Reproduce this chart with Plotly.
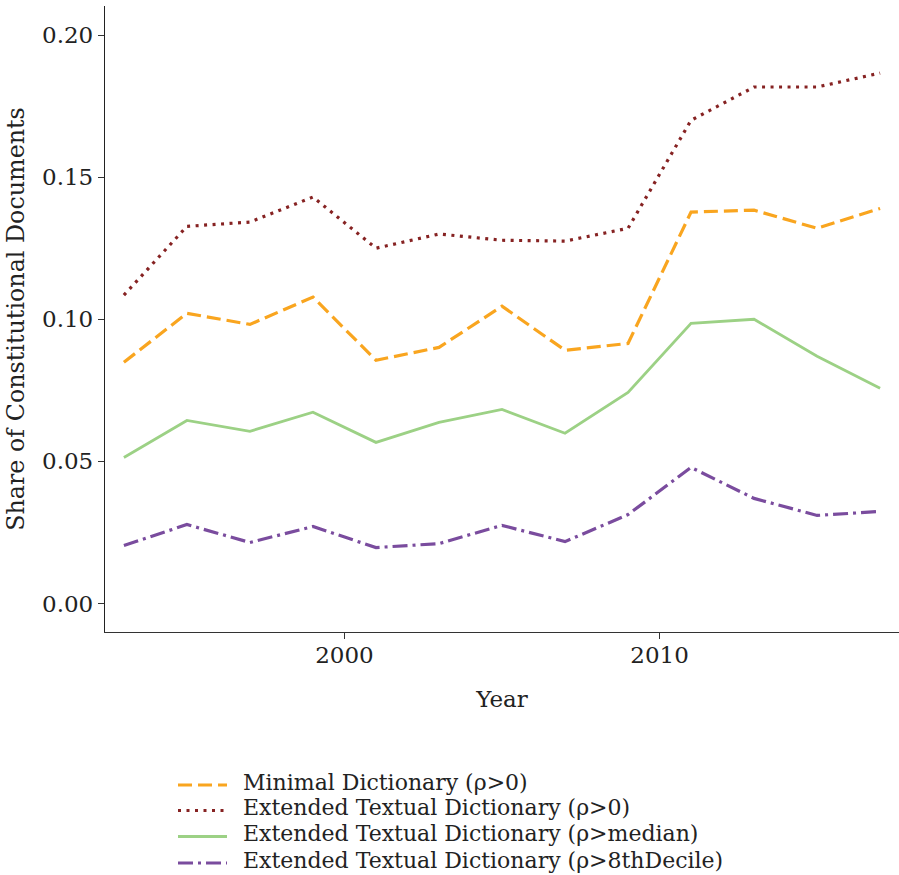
import plotly.graph_objects as go

years = [1993, 1995, 1997, 1999, 2001, 2003, 2005, 2007, 2009, 2011, 2013, 2015, 2017]

minimal_dict = [0.0849, 0.1021, 0.0982, 0.1078, 0.0856, 0.0901, 0.1046, 0.0891, 0.0915,
                0.1377, 0.1384, 0.1320, 0.1390]
ext_textual = [0.1085, 0.1327, 0.1342, 0.1430, 0.1250, 0.1300, 0.1278, 0.1275, 0.1320,
               0.1700, 0.1817, 0.1817, 0.1866]
ext_median = [0.0514, 0.0644, 0.0606, 0.0673, 0.0567, 0.0637, 0.0683, 0.0599, 0.0743,
              0.0986, 0.1000, 0.0870, 0.0757]
ext_decile = [0.0204, 0.0278, 0.0215, 0.0271, 0.0197, 0.0211, 0.0275, 0.0218, 0.0313,
              0.0479, 0.0370, 0.0310, 0.0324]

series_names = [
    "Minimal Dictionary (ρ>0)",
    "Extended Textual Dictionary (ρ>0)",
    "Extended Textual Dictionary (ρ>median)",
    "Extended Textual Dictionary (ρ>8thDecile)",
]
y_ticks = [0.00, 0.05, 0.10, 0.15, 0.20]
x_ticks = [2000, 2010]

FONT = "DejaVu Serif"
TEXT = "#222222"
W, H = 899, 875
M_L, M_R, M_T, M_B = 105, 0, 6, 243

styles = [
    dict(color="#F9A51F", width=3.2, dash="14px,6px"),
    dict(color="#862222", width=3.2, dash="3px,5.5px"),
    dict(color="#9CD185", width=2.8, dash="solid"),
    dict(color="#7A4C9E", width=3.2, dash="15px,5px,3px,5px"),
]

fig = go.Figure()
for name, vals, st in zip(series_names, [minimal_dict, ext_textual, ext_median, ext_decile], styles):
    fig.add_trace(go.Scatter(x=years, y=vals, mode="lines", name=name, line=st, showlegend=False))

# Legend block below the axes: sample line + label per series (paper coordinates)
plot_w = W - M_L - M_R
plot_h = H - M_T - M_B


def px_to_paper_x(px):
    return (px - M_L) / plot_w


def px_to_paper_y(py):
    return (H - M_B - py) / plot_h


legend_rows = [785, 810.5, 836.5, 863]
for name, st, row in zip(series_names, styles, legend_rows):
    fig.add_shape(type="line", xref="paper", yref="paper",
                  x0=px_to_paper_x(178), x1=px_to_paper_x(227),
                  y0=px_to_paper_y(row), y1=px_to_paper_y(row), line=st)
    fig.add_annotation(xref="paper", yref="paper", x=px_to_paper_x(241), y=px_to_paper_y(row - 3),
                       xanchor="left", yanchor="middle", showarrow=False, text=name,
                       font=dict(family=FONT, size=22, color=TEXT))

fig.update_layout(
    width=W, height=H,
    margin=dict(l=M_L, r=M_R, t=M_T, b=M_B),
    plot_bgcolor="white", paper_bgcolor="white",
    font=dict(family=FONT, size=23, color=TEXT),
    showlegend=False,
)
fig.update_xaxes(
    range=[1992.4, 2017.6], tickvals=x_ticks, ticktext=[str(t) for t in x_ticks],
    showgrid=False, zeroline=False, showline=True, linecolor="#333333", linewidth=1.3,
    ticks="outside", ticklen=6, tickcolor="#333333", ticklabelstandoff=-4,
    tickfont=dict(family=FONT, size=23, color=TEXT),
    title=dict(text="Year", font=dict(family=FONT, size=23, color=TEXT), standoff=24),
)
fig.update_yaxes(
    range=[-0.01, 0.2102], tickvals=y_ticks, ticktext=[f"{t:.2f}" for t in y_ticks],
    showgrid=False, zeroline=False, showline=True, linecolor="#222222", linewidth=1.3,
    ticks="outside", ticklen=6, tickcolor="#333333",
    tickfont=dict(family=FONT, size=23, color=TEXT),
    title=dict(text="Share of Constitutional Documents", font=dict(family=FONT, size=23.8, color=TEXT), standoff=10),
)

fig.write_html("out.html")
